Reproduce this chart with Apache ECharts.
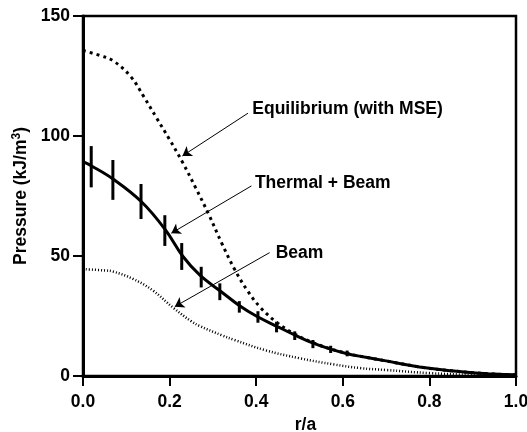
<!DOCTYPE html>
<html>
<head>
<meta charset="utf-8">
<script src="https://cdn.jsdelivr.net/npm/echarts@6/dist/echarts.min.js"></script>
<style>html,body{margin:0;padding:0;background:#fff}#c{width:527px;height:432px}</style>
</head>
<body>
<div id="c"></div>
<script>
// Equilibrium (with MSE) profile
const eqR = [0, 0.04, 0.07, 0.11, 0.14, 0.17, 0.20, 0.23, 0.26, 0.29, 0.32, 0.35, 0.38, 0.41, 0.45, 0.49, 0.53, 0.57, 0.61, 0.65, 0.70, 0.75, 0.80, 0.85, 0.90, 0.95, 1.00];
const eqP = [135.6, 133.5, 131.3, 124.8, 116.5, 107.5, 98.5, 89, 78.5, 67.5, 55.5, 44.5, 35.5, 28.5, 22, 17.4, 14.0, 11.4, 9.4, 7.9, 6.3, 4.6, 3.2, 2.2, 1.4, 0.8, 0.5];
// Thermal + Beam profile
const totR = [0, 0.02, 0.07, 0.135, 0.19, 0.23, 0.27, 0.32, 0.36, 0.40, 0.45, 0.49, 0.53, 0.57, 0.61, 0.65, 0.70, 0.75, 0.80, 0.85, 0.90, 0.95, 1.00];
const totP = [89.3, 87.5, 82, 72.6, 61, 50, 42, 35, 29.5, 25, 20.5, 17, 13.8, 11.3, 9.3, 7.9, 6.3, 4.6, 3.2, 2.2, 1.4, 0.8, 0.5];
// Error bars on Thermal + Beam
const barR = [0.019, 0.069, 0.134, 0.189, 0.228, 0.273, 0.316, 0.361, 0.404, 0.447, 0.489, 0.531, 0.572, 0.61];
const barP = [87.2, 81.7, 72.7, 60.6, 49.8, 41.2, 35.1, 28.8, 24.6, 20.4, 16.8, 13.3, 11.1, 9.4];
const barE = [8.6, 8.3, 7.3, 6.4, 5.6, 4.3, 3.5, 2.4, 2.4, 2.2, 1.8, 1.7, 1.5, 1.2];
// Beam profile
const beamR = [0, 0.05, 0.07, 0.115, 0.16, 0.21, 0.25, 0.27, 0.32, 0.35, 0.42, 0.50, 0.58, 0.64, 0.70, 0.80, 0.90, 1.00];
const beamP = [44.5, 44, 43.5, 40.5, 35.8, 28.2, 22.8, 20.8, 17, 15, 10.8, 7.4, 4.8, 3.3, 2.5, 1.2, 0.5, 0.1];
// Tick labels
const xTickLabels = ['0.0', '0.2', '0.4', '0.6', '0.8', '1.0'];
const yTickLabels = ['0', '50', '100', '150'];
// Annotations: text, anchor (data), arrow start, arrow end (data)
const annText = ['Equilibrium (with MSE)', 'Thermal + Beam', 'Beam'];
const annAt = [[0.391, 111.1], [0.397, 80.3], [0.445, 51.1]];
const arrFrom = [[0.381, 109.5], [0.389, 79.2], [0.431, 51.4]];
const arrTo = [[0.2296, 91.7], [0.204, 59.5], [0.212, 28.9]];

const FONT = "'Liberation Sans', Arial, Helvetica, sans-serif";
const FS = 17.5;
const zip = (a, b) => a.map((v, i) => [v, b[i]]);

const chart = echarts.init(document.getElementById('c'), null, {renderer: 'canvas'});
chart.setOption({
  animation: false,
  backgroundColor: '#fff',
  grid: {left: 83, right: 11, top: 16, bottom: 56, show: true, borderColor: '#000', borderWidth: 2.5,
    containLabel: false, outerBoundsMode: 'none'},
  xAxis: {
    type: 'value', min: 0, max: 1, interval: 0.2,
    name: 'r/a', nameLocation: 'middle', nameGap: 36,
    nameTextStyle: {fontFamily: FONT, fontWeight: 'bold', fontSize: FS, color: '#000', padding: [0, 0, 0, 12]},
    axisLine: {show: true, lineStyle: {color: '#000', width: 3}},
    axisTick: {show: true, inside: false, length: 10, lineStyle: {color: '#000', width: 2}},
    axisLabel: {fontFamily: FONT, fontWeight: 'bold', fontSize: FS, color: '#000', margin: 17,
      formatter: v => xTickLabels[Math.round(v / 0.2)]},
    splitLine: {show: false}
  },
  yAxis: {
    type: 'value', min: 0, max: 150, interval: 50,
    name: 'Pressure (kJ/m{sup|3})', nameLocation: 'middle', nameGap: 46,
    nameTextStyle: {fontFamily: FONT, fontWeight: 'bold', fontSize: FS, color: '#000',
      rich: {sup: {fontFamily: FONT, fontWeight: 'bold', fontSize: 12, color: '#000', padding: [0, 0, 8, 0]}}},
    axisLine: {show: true, lineStyle: {color: '#000', width: 3}},
    axisTick: {show: true, inside: false, length: 10, lineStyle: {color: '#000', width: 2}},
    axisLabel: {fontFamily: FONT, fontWeight: 'bold', fontSize: FS, color: '#000', margin: 13,
      formatter: v => yTickLabels[Math.round(v / 50)]},
    splitLine: {show: false}
  },
  series: [
    {
      type: 'line', name: 'Equilibrium', data: zip(eqR, eqP), smooth: 0.4,
      showSymbol: false, symbol: 'none',
      lineStyle: {color: '#000', width: 3, type: [3, 4]}
    },
    {
      type: 'line', name: 'Beam', data: zip(beamR, beamP), smooth: 0.4,
      showSymbol: false, symbol: 'none',
      lineStyle: {color: '#000', width: 2.5, type: [1, 2]}
    },
    {
      type: 'line', name: 'Thermal + Beam', data: zip(totR, totP), smooth: 0.4,
      showSymbol: false, symbol: 'none',
      lineStyle: {color: '#000', width: 3},
      markLine: {
        silent: true, symbol: ['none', 'arrow'], symbolSize: 9, precision: 4,
        lineStyle: {color: '#000', width: 1, type: 'solid'},
        itemStyle: {color: '#000'},
        label: {show: false},
        data: arrFrom.map((f, i) => [{coord: f}, {coord: arrTo[i]}])
      },
      markPoint: {
        silent: true, symbol: 'circle', symbolSize: 0,
        label: {show: true, position: 'right', distance: 0, fontFamily: FONT, fontWeight: 'bold', fontSize: FS, color: '#000',
          formatter: p => p.name},
        data: annText.map((t, i) => ({name: t, coord: annAt[i]}))
      }
    },
    {
      type: 'custom', name: 'errors', data: barR.map((r, i) => [r, barP[i], barE[i]]),
      encode: {x: 0, y: 1},
      renderItem: (params, api) => {
        const x = api.value(0), y = api.value(1), e = api.value(2);
        const a = api.coord([x, y + e]);
        const b = api.coord([x, y - e]);
        return {type: 'line', shape: {x1: a[0], y1: a[1], x2: b[0], y2: b[1]},
          style: {stroke: '#000', lineWidth: 3}};
      }
    }
  ]
});
</script>
</body>
</html>
